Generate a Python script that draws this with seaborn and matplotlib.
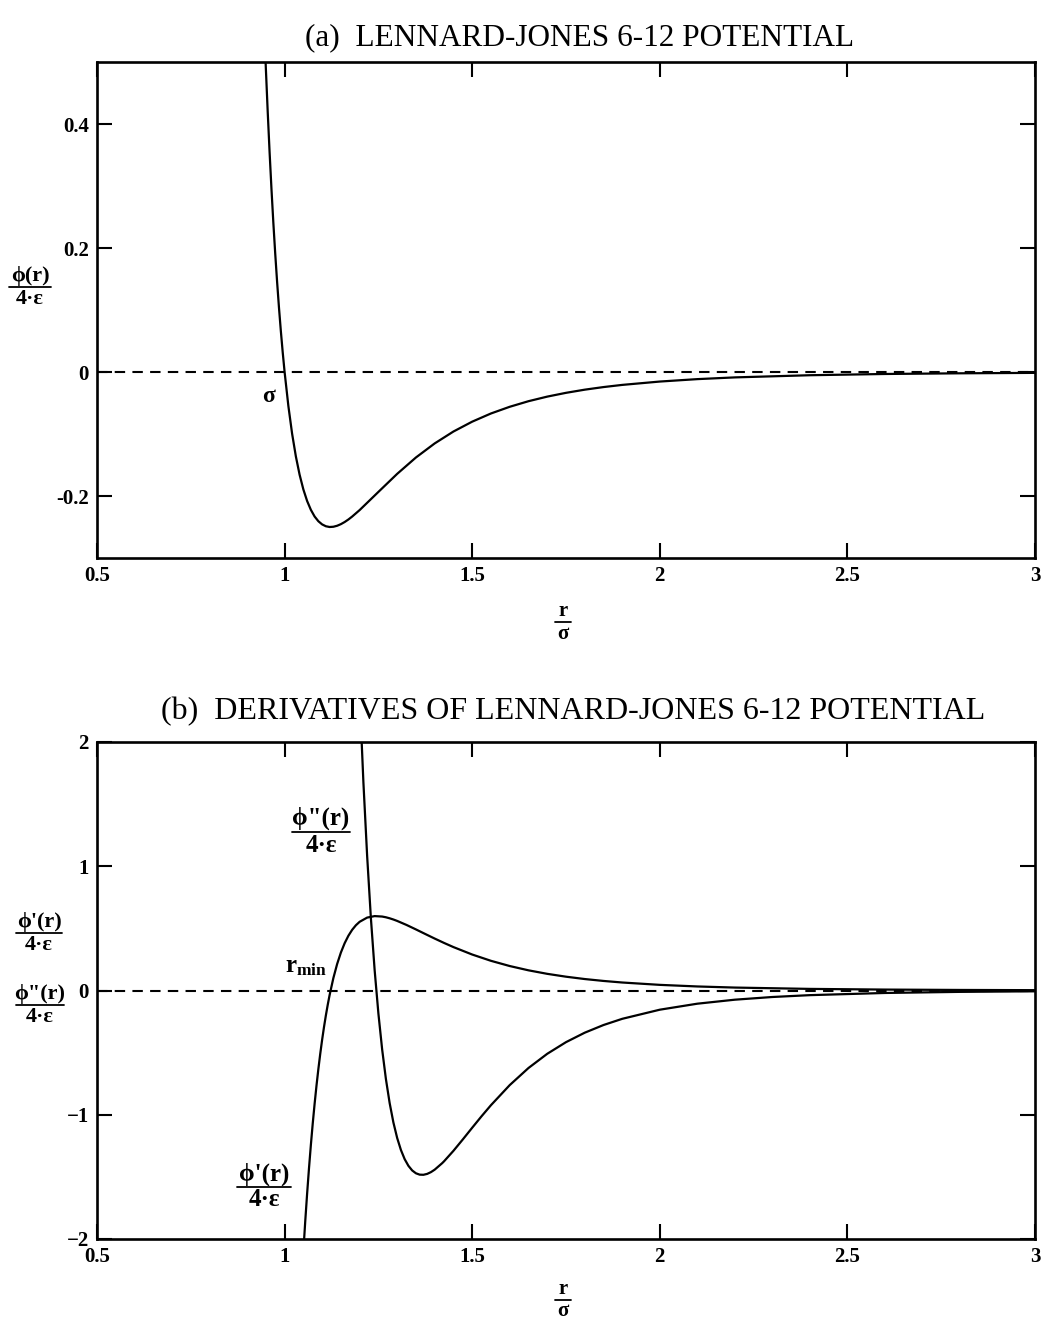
import matplotlib
matplotlib.use("Agg")
import matplotlib.pyplot as plt
import seaborn as sns
import pandas as pd
from matplotlib.lines import Line2D

# ---------------- data ----------------
r_phi = [0.945, 0.95, 0.955, 0.96, 0.965, 0.97, 0.975, 0.98, 0.985, 0.99, 0.995,
         1.00, 1.01, 1.02, 1.03, 1.04, 1.05, 1.06, 1.07, 1.08, 1.09, 1.10, 1.11,
         1.12, 1.13, 1.14, 1.15, 1.16, 1.17, 1.18, 1.20, 1.25, 1.30, 1.35, 1.40,
         1.45, 1.50, 1.55, 1.60, 1.65, 1.70, 1.75, 1.80, 1.85, 1.90, 2.00, 2.10,
         2.20, 2.40, 2.60, 2.80, 3.00]
phi = [0.5675, 0.4902, 0.4195, 0.3546, 0.2951, 0.2407, 0.1910, 0.1455, 0.1039,
       0.0660, 0.0315, 0.0, -0.0546, -0.0995, -0.1361, -0.1657, -0.1894,
       -0.2080, -0.2223, -0.2331, -0.2407, -0.2458, -0.2488, -0.2500, -0.2496,
       -0.2480, -0.2454, -0.2420, -0.2379, -0.2332, -0.2227, -0.1934, -0.1643,
       -0.1379, -0.1152, -0.0960, -0.0801, -0.0669, -0.0561, -0.0471, -0.0397,
       -0.0336, -0.0285, -0.0243, -0.0208, -0.0154, -0.0115, -0.0087, -0.0052,
       -0.0032, -0.0021, -0.0014]

r_d1 = [1.05, 1.055, 1.06, 1.065, 1.07, 1.075, 1.08, 1.085, 1.09, 1.095, 1.10,
        1.105, 1.11, 1.115, 1.12, 1.13, 1.14, 1.15, 1.16, 1.17, 1.18, 1.19, 1.20,
        1.22, 1.24, 1.26, 1.27, 1.28, 1.29, 1.30, 1.325, 1.35, 1.375, 1.40,
        1.425, 1.45, 1.50, 1.55, 1.60, 1.65, 1.70, 1.75, 1.80, 1.85, 1.90, 2.00,
        2.10, 2.20, 2.40, 2.60, 2.80, 3.00]
d1 = [-2.0998, -1.8580, -1.6357, -1.4312, -1.2431, -1.0702, -0.9114, -0.7657,
      -0.6320, -0.5094, -0.3970, -0.2942, -0.2002, -0.1144, -0.0360, 0.1004,
      0.2130, 0.3053, 0.3803, 0.4405, 0.4881, 0.5251, 0.5529, 0.5868, 0.5988,
      0.5952, 0.5893, 0.5811, 0.5713, 0.5600, 0.5275, 0.4916, 0.4546, 0.4180,
      0.3828, 0.3494, 0.2895, 0.2389, 0.1969, 0.1624, 0.1341, 0.1111, 0.0922,
      0.0769, 0.0643, 0.0454, 0.0325, 0.0236, 0.0129, 0.0074, 0.0044, 0.0027]

r_d2 = [1.20, 1.21, 1.22, 1.23, 1.24, 1.25, 1.26, 1.27, 1.28, 1.29, 1.30, 1.31,
        1.32, 1.33, 1.34, 1.35, 1.36, 1.37, 1.38, 1.39, 1.40, 1.42, 1.425, 1.45,
        1.475, 1.50, 1.525, 1.55, 1.60, 1.65, 1.70, 1.75, 1.80, 1.85, 1.90,
        2.00, 2.10, 2.20, 2.30, 2.40, 2.60, 2.80, 3.00]
d2 = [2.3828, 1.6771, 1.0823, 0.5821, 0.1636, -0.1855, -0.4744, -0.7123,
      -0.9063, -1.0625, -1.1867, -1.2835, -1.3573, -1.4110, -1.4482, -1.4711,
      -1.4821, -1.4832, -1.4760, -1.4618, -1.4420, -1.3896, -1.3745, -1.2903,
      -1.1985, -1.1044, -1.0118, -0.9230, -0.7614, -0.6238, -0.5094, -0.4157,
      -0.3395, -0.2778, -0.2278, -0.1545, -0.1062, -0.0740, -0.0523, -0.0374,
      -0.0199, -0.0110, -0.0064]

x_ticks = [0.5, 1.0, 1.5, 2.0, 2.5, 3.0]
x_tick_labels = ["0.5", "1", "1.5", "2", "2.5", "3"]
ya_ticks = [-0.2, 0.0, 0.2, 0.4]
ya_tick_labels = ["-0.2", "0", "0.2", "0.4"]
yb_ticks = [-2, -1, 0, 1, 2]
yb_tick_labels = ["\u22122", "\u22121", "0", "1", "2"]

title_a = "(a)  LENNARD-JONES 6-12 POTENTIAL"
title_b = "(b)  DERIVATIVES OF LENNARD-JONES 6-12 POTENTIAL"

PHI = "\u03d5"
EPS = "4\u00b7\u03b5"

# ---------------- style ----------------
sns.set_style("ticks")
plt.rcParams["font.family"] = ["Liberation Serif", "DejaVu Serif"]
plt.rcParams["mathtext.fontset"] = "custom"
plt.rcParams["mathtext.rm"] = "Liberation Serif:bold"
plt.rcParams["mathtext.bf"] = "Liberation Serif:bold"
plt.rcParams["mathtext.it"] = "Liberation Serif:bold"
plt.rcParams["text.color"] = "black"
plt.rcParams["xtick.color"] = "black"
plt.rcParams["ytick.color"] = "black"
plt.rcParams["axes.edgecolor"] = "black"

W, H = 1042, 1320
fig = plt.figure(figsize=(W / 100, H / 100), dpi=100)
fig.patch.set_facecolor("white")


def P(x, y):
    return x / W, 1 - y / H


def axes_px(left, top, right, bottom):
    return [left / W, 1 - bottom / H, (right - left) / W, (bottom - top) / H]


ax_a = fig.add_axes(axes_px(97, 62, 1035, 558))
ax_b = fig.add_axes(axes_px(97, 742, 1035, 1239))

df_a = pd.DataFrame({"r": r_phi, "v": phi})
df_d1 = pd.DataFrame({"r": r_d1, "v": d1})
df_d2 = pd.DataFrame({"r": r_d2, "v": d2})

sns.lineplot(data=df_a, x="r", y="v", ax=ax_a, color="black", lw=1.6,
             sort=False, estimator=None)
sns.lineplot(data=df_d1, x="r", y="v", ax=ax_b, color="black", lw=1.6,
             sort=False, estimator=None)
sns.lineplot(data=df_d2, x="r", y="v", ax=ax_b, color="black", lw=1.6,
             sort=False, estimator=None)

for ax, yt, ytl, ylim in [(ax_a, ya_ticks, ya_tick_labels, (-0.3, 0.5)),
                          (ax_b, yb_ticks, yb_tick_labels, (-2, 2))]:
    ax.axhline(0, color="black", lw=1.5, ls=(0, (5, 3.5)))
    ax.set_xlim(0.5, 3.0)
    ax.set_ylim(*ylim)
    ax.set_xticks(x_ticks)
    ax.set_xticklabels(x_tick_labels, fontsize=15, fontweight="bold")
    ax.set_yticks(yt)
    ax.set_yticklabels(ytl, fontsize=15, fontweight="bold")
    ax.tick_params(direction="in", length=11, width=1.5, top=True, right=True,
                   pad=6, colors="black")
    ax.set_xlabel("")
    ax.set_ylabel("")
    for s in ax.spines.values():
        s.set_visible(True)
        s.set_linewidth(1.9)
        s.set_color("black")

# titles
fig.text(*P(580, 38), title_a, ha="center", va="center", fontsize=22.5,
         color="black")
fig.text(*P(573, 712), title_b, ha="center", va="center", fontsize=23,
         color="black")


def frac(xc, yline, top, bot, size, half_w, gap=1.5, lw=1.3):
    fig.text(*P(xc, yline - gap), top, ha="center", va="bottom",
             fontsize=size, fontweight="bold")
    fig.text(*P(xc, yline + gap), bot, ha="center", va="top",
             fontsize=size, fontweight="bold")
    fig.add_artist(Line2D([(xc - half_w) / W, (xc + half_w) / W],
                          [1 - yline / H, 1 - yline / H],
                          transform=fig.transFigure, color="black", lw=lw))


# axis labels
frac(563, 622, "r", "\u03c3", 15, 8)
frac(563, 1300, "r", "\u03c3", 15, 8)
frac(30, 287, PHI + "(r)", EPS, 16, 21)
frac(39, 933, PHI + "'(r)", EPS, 16, 23)
frac(40, 1005, PHI + "\"(r)", EPS, 16, 24)

# in-plot annotations
fig.text(*P(269, 396), "\u03c3", ha="center", va="center", fontsize=17,
         fontweight="bold")
frac(321, 832, PHI + "\"(r)", EPS, 18, 29)
frac(264, 1187, PHI + "'(r)", EPS, 18, 27)
fig.text(*P(306, 967), r"$\mathrm{r}_{\mathrm{min}}$", ha="center",
         va="center", fontsize=18)

fig.savefig("out.png", dpi=100, facecolor="white")
